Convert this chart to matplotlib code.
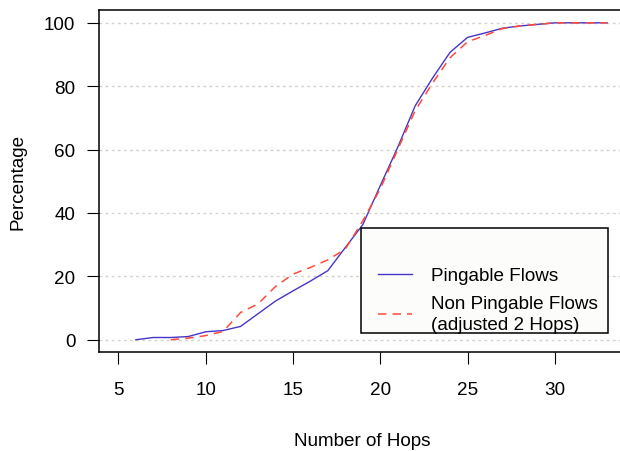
import matplotlib.pyplot as plt
from matplotlib.patches import Rectangle

plt.rcParams['font.family'] = ['Liberation Sans', 'DejaVu Sans']

# hop counts and cumulative percentages
hops_ping = list(range(6, 34))
pingable = [0, 0.7, 0.7, 1.0, 2.5, 2.9, 4.2, 8.2, 12.2, 15.4, 18.5, 21.8, 29.1, 36.3,
            48.6, 60.7, 73.8, 82.6, 90.7, 95.4, 96.8, 98.3, 99.0, 99.5, 100, 100, 100, 100]
hops_nonping = list(range(8, 34))
non_pingable = [0, 0.5, 1.3, 2.6, 8.6, 11.3, 16.8, 20.7, 22.8, 25.2, 28.6, 37.5, 47.6,
                60.0, 72.3, 81.0, 89.0, 94.0, 96.0, 98.2, 99.0, 99.5, 100, 100, 100, 100]
xticks = [5, 10, 15, 20, 25, 30]
yticks = [0, 20, 40, 60, 80, 100]

blue = '#4636C8'
red = '#FF4A3A'
fs = 13.6

fig = plt.figure(figsize=(6.2, 4.52), dpi=100)
# right edge of the box falls just outside the image, as in the reference
ax = fig.add_axes([99 / 620, (452 - 353.3) / 452, 526 / 620, 342.8 / 452])

ax.set_xlim(3.89, 33.79 + 4 / 17.46)
ax.set_ylim(-3.97, 104.2)

# dotted horizontal grid
for y in yticks:
    ax.axhline(y, color='#D2D2CC', lw=1.0, ls=(0, (2, 2.4)), zorder=1)

ax.plot(hops_ping, pingable, color=blue, lw=1.0, zorder=3, label='Pingable Flows')
ax.plot(hops_nonping, non_pingable, color=red, lw=1.1, dashes=(5.5, 4), zorder=3,
        label='Non Pingable Flows\n(adjusted 2 Hops)')

ax.set_xticks(xticks)
ax.set_yticks(yticks)
ax.tick_params(axis='x', length=8.6, width=0.8, pad=12, labelsize=fs, direction='out')
ax.tick_params(axis='y', length=9, width=0.8, pad=8, labelsize=fs, direction='out')
for s in ax.spines.values():
    s.set_linewidth(1.1)

ax.set_xlabel('Number of Hops', fontsize=fs, va='center')
ax.xaxis.set_label_coords(0.5, (353.3 - 442) / 342.8)
ax.set_ylabel('Percentage', fontsize=fs, va='center')
ax.yaxis.set_label_coords((18 - 99) / 526, 0.5)

# legend frame drawn as a box, entries placed inside it
box = Rectangle(((360.7 - 99) / 526, (353.3 - 334) / 342.8), 247.3 / 526, 104.7 / 342.8,
                transform=ax.transAxes, facecolor='#FCFCFA', edgecolor='black',
                lw=1.1, zorder=4)
ax.add_patch(box)
leg = ax.legend(loc='upper left', bbox_to_anchor=((378.3 - 99) / 526, (353.3 - 268) / 342.8),
                frameon=False, fontsize=fs, handlelength=1.8, handletextpad=1.0,
                borderpad=0, borderaxespad=0, labelspacing=0.55)
for t in leg.get_texts():
    t.set_linespacing(1.32)
leg.set_zorder(5)

fig.savefig('out.png', dpi=100)
